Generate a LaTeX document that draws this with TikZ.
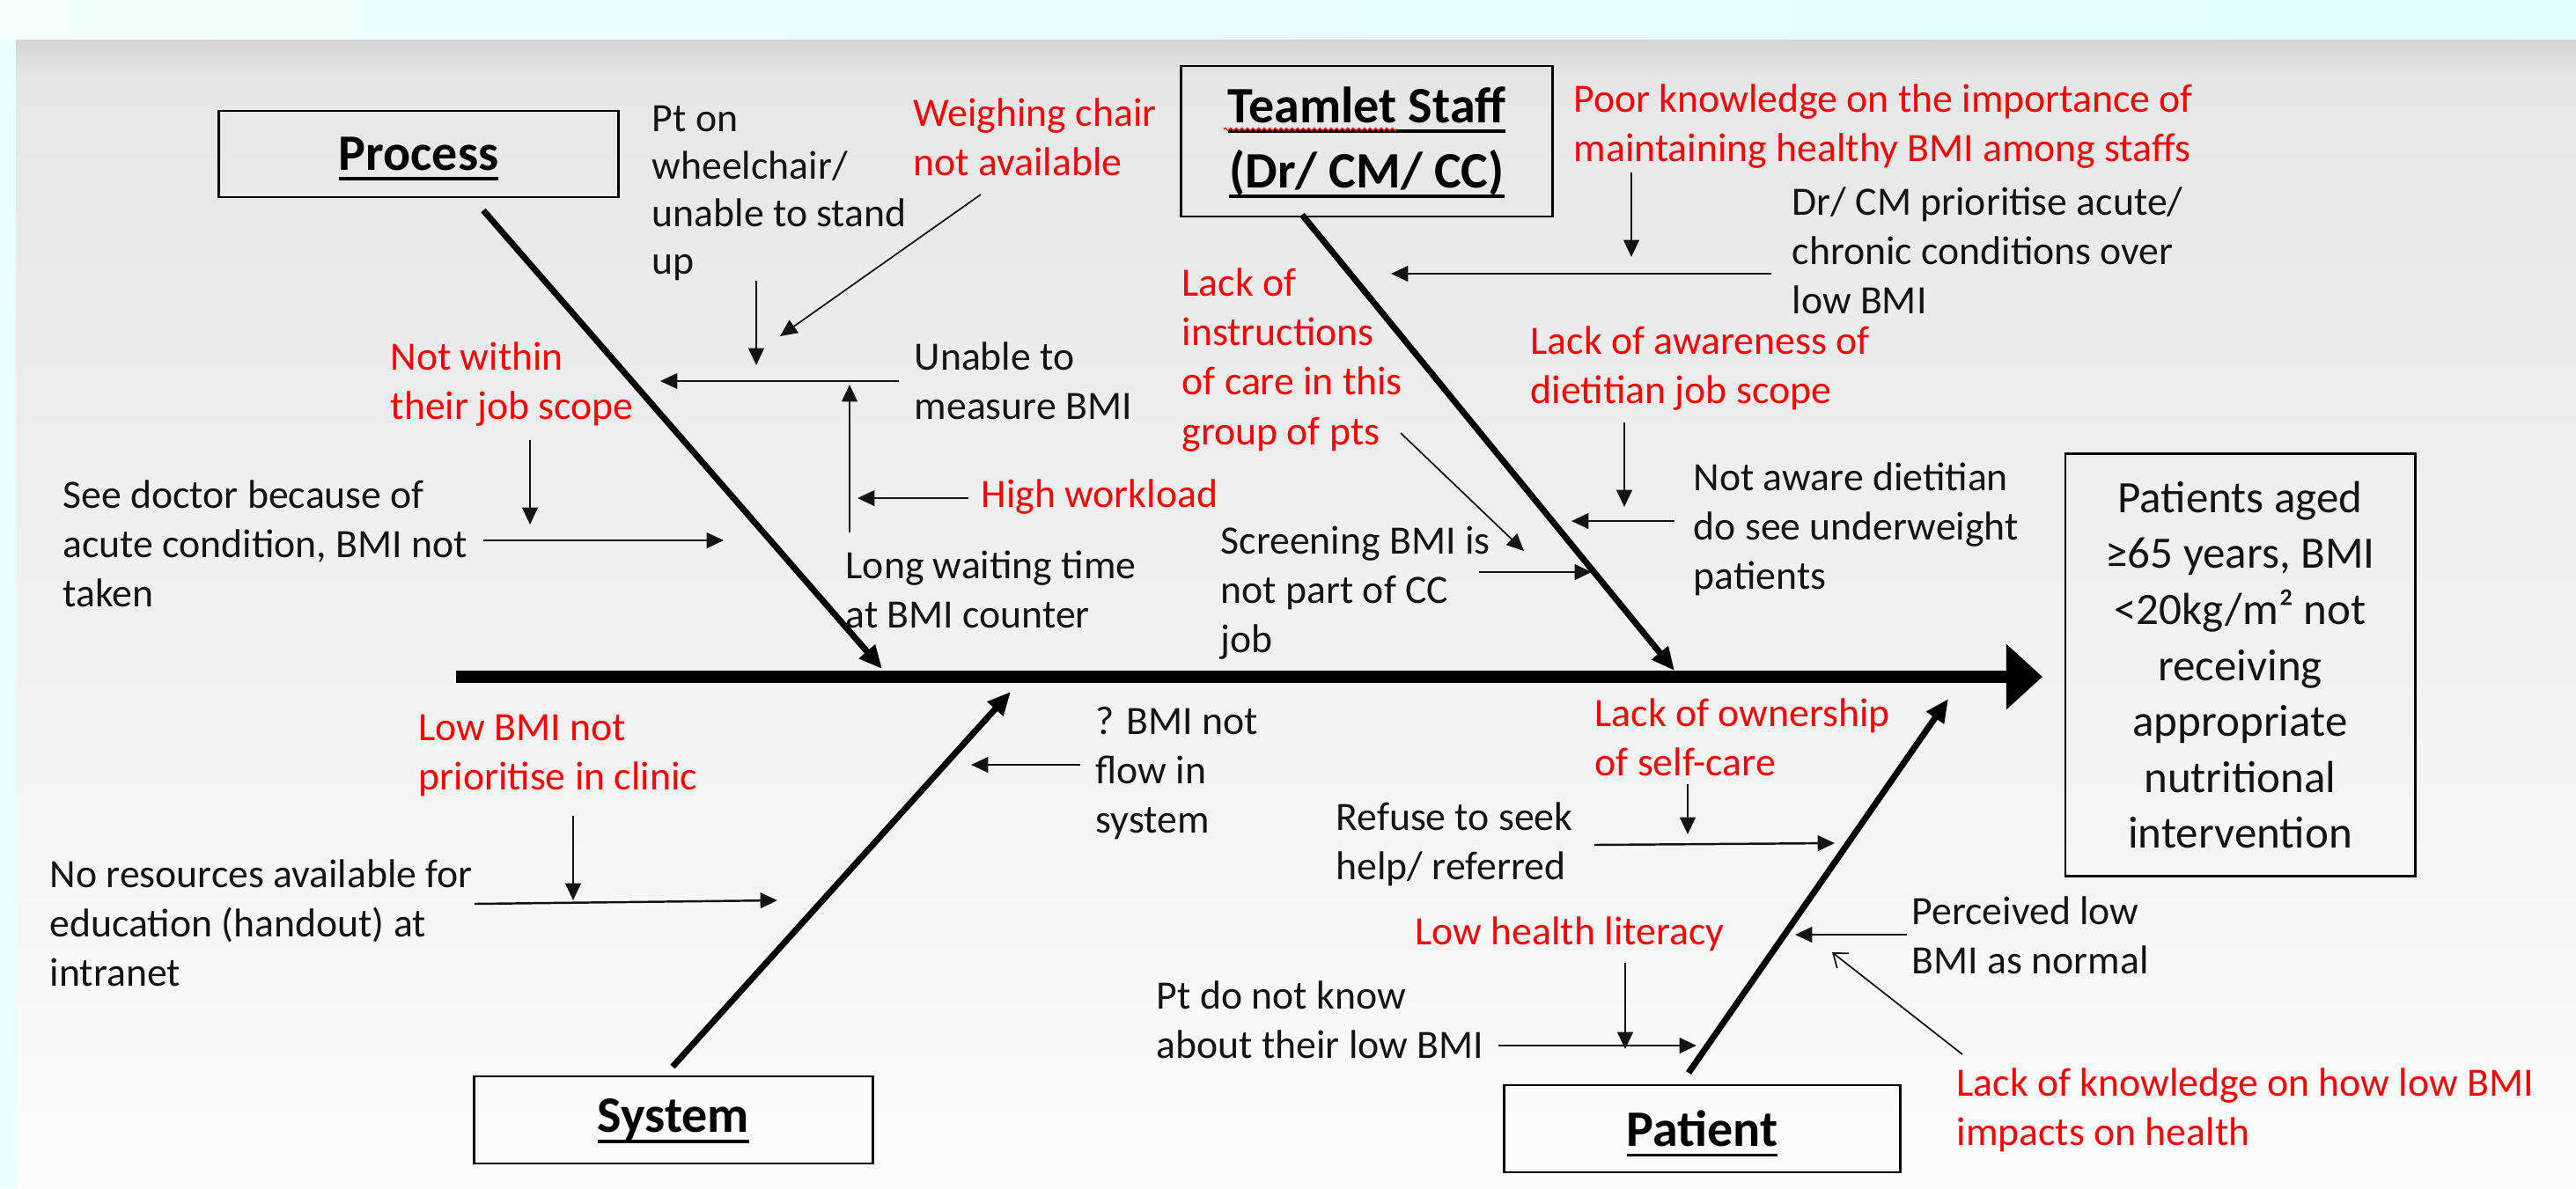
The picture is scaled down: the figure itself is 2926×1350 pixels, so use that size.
\documentclass[tikz,border=0pt]{standalone}
\usepackage{fontspec}
\setmainfont{Carlito}
\usetikzlibrary{arrows.meta,decorations.pathmorphing,calc}
\definecolor{cyanbg}{RGB}{232,255,254}
\definecolor{cyanl}{RGB}{242,255,254}
\definecolor{cyanr}{RGB}{224,255,255}
\definecolor{shA}{RGB}{214,214,214}
\definecolor{shB}{RGB}{231,231,231}
\definecolor{shC}{RGB}{252,252,252}
\definecolor{redc}{RGB}{255,0,0}
\definecolor{txtc}{RGB}{20,20,20}
\newsavebox\ulbox
\newcommand\tul[1]{\sbox\ulbox{#1}\rlap{\smash{\rule[-0.2em]{\wd\ulbox}{0.065em}}}\usebox\ulbox}
\newcommand\fs{\rule{0pt}{12pt}}
\begin{document}
\begin{tikzpicture}[x=0.01cm,y=-0.01cm,
  txt/.style={anchor=north west, yshift=9pt, inner sep=0pt, align=left, text=txtc, font=\fontsize{13}{16}\selectfont},
  rtxt/.style={txt, text=redc},
  ttl/.style={draw=black, line width=0.8pt, inner sep=0pt, align=center, font=\fontsize{16.5}{21}\selectfont\bfseries},
  effect/.style={draw=black, line width=0.8pt, inner sep=0pt, align=center, text=txtc, font=\fontsize{14.5}{18.1}\selectfont},
  arr/.style={-{Triangle[length=5.5pt,width=5pt]}, line width=0.7pt, draw=txtc},
  thinarr/.style={-{Triangle[length=5.5pt,width=5pt]}, line width=0.5pt, draw=txtc},
  openarr/.style={-{Straight Barb[length=4pt,width=6pt]}, line width=0.5pt, draw=txtc},
  bone/.style={-{Triangle[length=7.5pt,width=6.5pt]}, line width=2pt},
  spine/.style={-{Triangle[length=11.7pt,width=20.5pt]}, line width=4.2pt}]
\useasboundingbox (0,0) rectangle (2926,1350);
% background
\fill[cyanbg] (0,0) rectangle (2926,1350);
\shade[left color=cyanl, right color=cyanr] (0,0) rectangle (2926,45);
\shade[top color=shA, bottom color=shB] (18,45) rectangle (2926,90);
\shade[top color=shB, bottom color=shC] (18,90) rectangle (2926,1350);

% category boxes
\node[ttl, minimum width=4.53cm, minimum height=0.98cm] (proc) at (475.5,175) {\tul{Process}};
\node[ttl, minimum width=4.21cm, minimum height=1.71cm] (team) at (1552.5,160.5) {\tul{Teamlet Staff}\\\tul{(Dr/ CM/ CC)}};
\node[ttl, minimum width=4.52cm, minimum height=0.99cm] (sys) at (765,1272.5) {\tul{System}};
\node[ttl, minimum width=4.49cm, minimum height=0.99cm] (pat) at (1933.5,1282.5) {\tul{Patient}};
\draw[redc, line width=0.35pt, decorate, decoration={zigzag, amplitude=0.45pt, segment length=1.8pt}] (1390,147) -- (1587,147);

% effect box
\node[effect, minimum width=3.97cm, minimum height=4.79cm] (eff) at (2544.5,755.5)
  {Patients aged\\≥65 years, BMI\\<20kg/m² not\\receiving\\appropriate\\nutritional\\intervention};

% spine
\coordinate (sp0) at (518,769);
\coordinate (sptip) at (2320,769);
\draw[spine] (sp0) -- (sptip);

% bones
\coordinate (pb0) at (549,239);   \coordinate (pb1) at (1002,760);
\coordinate (tb0) at (1479,244);  \coordinate (tb1) at (1902,762);
\coordinate (sb0) at (764,1212);  \coordinate (sb1) at (1148,786);
\coordinate (ab0) at (1918,1219); \coordinate (ab1) at (2213,794);
\draw[bone] (pb0) -- (pb1);
\draw[bone] (tb0) -- (tb1);
\draw[bone] (sb0) -- (sb1);
\draw[bone] (ab0) -- (ab1);

% texts - Process
\node[txt, font=\fontsize{13}{15.4}\selectfont] (pton) at (740,138) {\fs Pt on\\wheelchair/\\unable to stand\\up};
\node[rtxt] (weigh) at (1037,132) {\fs Weighing chair\\not available};
\node[rtxt] (notwithin) at (443,409) {\fs Not within\\their job scope};
\node[txt] (unable) at (1038,409) {\fs Unable to\\measure BMI};
\node[txt] (seedoc) at (71,566) {\fs See doctor because of\\acute condition, BMI not\\taken};
\node[rtxt] (highwl) at (1114,565) {\fs High workload};
\node[txt] (longwait) at (960,646) {\fs Long waiting time\\at BMI counter};

% texts - Teamlet
\node[rtxt] (poor) at (1787,116) {\fs Poor knowledge on the importance of\\maintaining healthy BMI among staffs};
\node[txt] (drcm) at (2035,233) {\fs Dr/ CM prioritise acute/\\chronic conditions over\\low BMI};
\node[rtxt] (lackinstr) at (1342,325) {\fs Lack of\\instructions\\of care in this\\group of pts};
\node[rtxt] (lackaware) at (1738,391) {\fs Lack of awareness of\\dietitian job scope};
\node[txt] (notaware) at (1923,546) {\fs Not aware dietitian\\do see underweight\\patients};
\node[txt] (screen) at (1386,618) {\fs Screening BMI is\\not part of CC\\job};

% texts - System
\node[rtxt] (lowbmi) at (475,830) {\fs Low BMI not\\prioritise in clinic};
\node[txt] (qbmi) at (1244,823) {\fs ? BMI not\\flow in\\system};
\node[txt] (nores) at (56,997) {\fs No resources available for\\education (handout) at\\intranet};

% texts - Patient
\node[rtxt] (owner) at (1811,814) {\fs Lack of ownership\\of self-care};
\node[txt] (refuse) at (1517,932) {\fs Refuse to seek\\help/ referred};
\node[txt] (perc) at (2171,1039) {\fs Perceived low\\BMI as normal};
\node[rtxt] (lowhl) at (1607,1062) {\fs Low health literacy};
\node[txt] (ptdo) at (1313,1135) {\fs Pt do not know\\about their low BMI};
\node[rtxt] (lackknow) at (2222,1234) {\fs Lack of knowledge on how low BMI\\impacts on health};

% arrow end points
\coordinate (a1s) at (602,500);  \coordinate (a1e) at (602,596);
\coordinate (a2s) at (549,614);  \coordinate (a2e) at (822,614);
\coordinate (a3s) at (859,319);  \coordinate (a3e) at (859,415);
\coordinate (a4s) at (1114,221); \coordinate (a4e) at (886,382);
\coordinate (a5s) at (1021,433); \coordinate (a5e) at (750,433);
\coordinate (a6s) at (965,605);  \coordinate (a6e) at (965,437);
\coordinate (a7s) at (1100,566); \coordinate (a7e) at (974,566);
\coordinate (a8s) at (1591,492); \coordinate (a8e) at (1731,626);
\coordinate (a9s) at (1680,650); \coordinate (a9e) at (1808,650);
\coordinate (a10s) at (1853,196); \coordinate (a10e) at (1853,292);
\coordinate (a11s) at (2012,311); \coordinate (a11e) at (1580,311);
\coordinate (a12s) at (1845,480); \coordinate (a12e) at (1845,576);
\coordinate (a13s) at (1902,592); \coordinate (a13e) at (1785,592);
\coordinate (a14s) at (651,927);  \coordinate (a14e) at (651,1023);
\coordinate (a15s) at (539,1027); \coordinate (a15e) at (883,1023);
\coordinate (a16s) at (1227,869); \coordinate (a16e) at (1103,869);
\coordinate (a17s) at (1917,891); \coordinate (a17e) at (1917,948);
\coordinate (a18s) at (1811,960); \coordinate (a18e) at (2084,958);
\coordinate (a19s) at (2166,1062); \coordinate (a19e) at (2039,1062);
\coordinate (a20s) at (2229,1198); \coordinate (a20e) at (2081,1082);
\coordinate (a21s) at (1846,1094); \coordinate (a21e) at (1846,1192);
\coordinate (a22s) at (1702,1188); \coordinate (a22e) at (1927,1188);

\draw[arr] (a1s) -- (a1e);
\draw[arr] (a2s) -- (a2e);
\draw[arr] (a3s) -- (a3e);
\draw[thinarr] (a4s) -- (a4e);
\draw[arr] (a5s) -- (a5e);
\draw[arr] (a6s) -- (a6e);
\draw[arr] (a7s) -- (a7e);
\draw[thinarr] (a8s) -- (a8e);
\draw[arr] (a9s) -- (a9e);
\draw[arr] (a10s) -- (a10e);
\draw[arr] (a11s) -- (a11e);
\draw[arr] (a12s) -- (a12e);
\draw[arr] (a13s) -- (a13e);
\draw[arr] (a14s) -- (a14e);
\draw[arr] (a15s) -- (a15e);
\draw[arr] (a16s) -- (a16e);
\draw[arr] (a17s) -- (a17e);
\draw[arr] (a18s) -- (a18e);
\draw[arr] (a19s) -- (a19e);
\draw[openarr] (a20s) -- (a20e);
\draw[arr] (a21s) -- (a21e);
\draw[arr] (a22s) -- (a22e);
\end{tikzpicture}
\end{document}
